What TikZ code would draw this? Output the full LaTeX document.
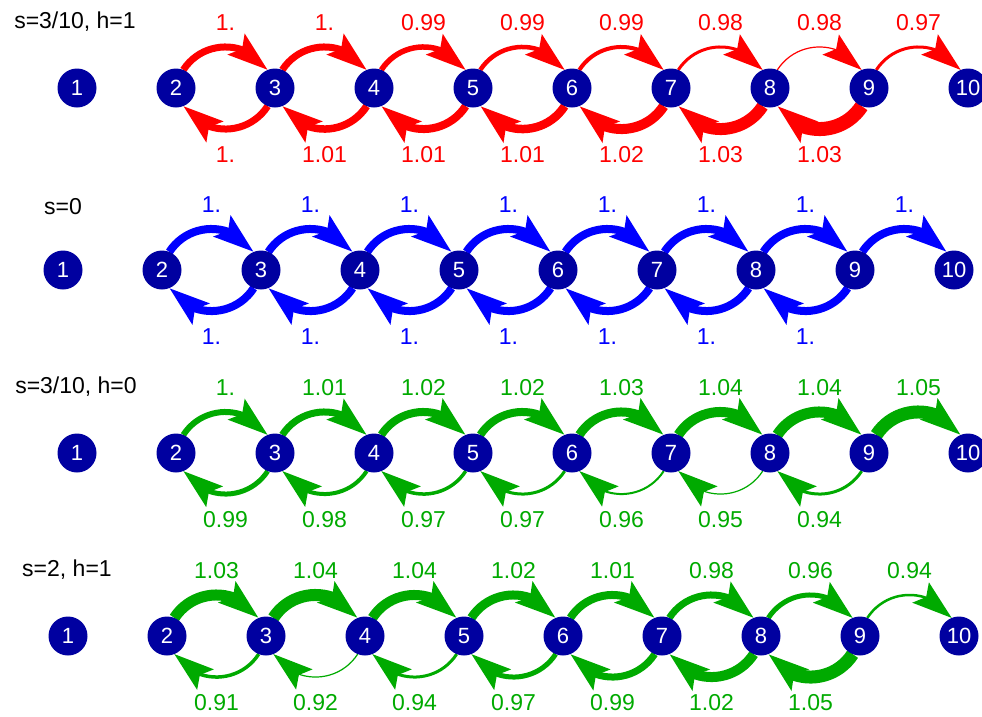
\documentclass[tikz,border=0pt]{standalone}
\usepackage{fontspec}
\setmainfont{Liberation Sans}
\usetikzlibrary{arrows.meta,bending,calc}
\pgfdeclarelayer{bg}
\pgfsetlayers{bg,main}
\definecolor{vblue}{RGB}{0,0,160}
\definecolor{dgreen}{RGB}{0,170,0}
\tikzset{
  vert/.style={circle,fill=vblue,text=white,minimum size=39pt,inner sep=0pt,outer sep=0pt,font=\fontsize{22}{22}\selectfont},
  wlab/.style={font=\fontsize{23}{23}\selectfont},
  fwd/.style={-{Stealth[length=40pt,width=26pt,inset=7pt,flex]}},
}
\newcommand\makerow[3]{% prefix, x1, y
  \foreach \k in {1,...,10}{
    \node[vert] (#1n\k) at ({#2+99*(\k-1)},{-#3}) {\k};
  }
}
\newcommand\toparcs[3]{% prefix, colour, list k/width/label
  \foreach \k/\w/\l in {#3}{
    \pgfmathtruncatemacro\n{\k+1}
    \begin{pgfonlayer}{bg}
      \draw[fwd,#2,line width=\w pt] (#1n\k.68) .. controls +(57:36.5) and +(123:36.5) .. (#1n\n.112);
    \end{pgfonlayer}
    \node[wlab,text=#2] (#1t\k) at ($(#1n\k)!0.5!(#1n\n)+(0,65)$) {\l};
  }
}
\newcommand\botarcs[3]{% prefix, colour, list k/width/label  (edge k+1 -> k)
  \foreach \k/\w/\l in {#3}{
    \pgfmathtruncatemacro\n{\k+1}
    \begin{pgfonlayer}{bg}
      \draw[fwd,#2,line width=\w pt] (#1n\n.248) .. controls +(-123:36.5) and +(-57:36.5) .. (#1n\k.292);
    \end{pgfonlayer}
    \node[wlab,text=#2] (#1b\k) at ($(#1n\k)!0.5!(#1n\n)+(0,-67)$) {\l};
  }
}
\begin{document}
\begin{tikzpicture}[x=1pt,y=1pt]
\useasboundingbox (0,0) rectangle (982,-716);
% row titles
\node[wlab] (title1) at (75,-22) {s=3/10, h=1};
\node[wlab] (title2) at (63,-207) {s=0};
\node[wlab] (title3) at (76,-387) {s=3/10, h=0};
\node[wlab] (title4) at (67,-570) {s=2, h=1};
% vertices
\makerow{a}{77}{88}
\makerow{b}{63}{270}
\makerow{c}{77}{453}
\makerow{d}{68}{636}
% row 1 (red)
\toparcs{a}{red}{2/7/1.,3/7/1.,4/5.5/0.99,5/4.5/0.99,6/4/0.99,7/3/0.98,8/1.2/0.98,9/3/0.97}
\botarcs{a}{red}{2/7/1.,3/7.5/1.01,4/8/1.01,5/8.5/1.01,6/10/1.02,7/12/1.03,8/14/1.03}
% row 2 (blue)
\toparcs{b}{blue}{2/8/1.,3/8/1.,4/8/1.,5/8/1.,6/8/1.,7/8/1.,8/8/1.,9/8/1.}
\botarcs{b}{blue}{2/8/1.,3/8/1.,4/8/1.,5/8/1.,6/8/1.,7/8/1.,8/8/1.}
% row 3 (green)
\toparcs{c}{dgreen}{2/6/1.,3/7/1.01,4/8/1.02,5/8/1.02,6/9/1.03,7/10/1.04,8/11/1.04,9/13/1.05}
\botarcs{c}{dgreen}{2/5/0.99,3/4/0.98,4/3.5/0.97,5/3/0.97,6/2/0.96,7/1.2/0.95,8/3/0.94}
% row 4 (green)
\toparcs{d}{dgreen}{2/11/1.03,3/12/1.04,4/10/1.04,5/9/1.02,6/8/1.01,7/7/0.98,8/5/0.96,9/2.5/0.94}
\botarcs{d}{dgreen}{2/3.5/0.91,3/1.2/0.92,4/3/0.94,5/5/0.97,6/7/0.99,7/10/1.02,8/13/1.05}
\end{tikzpicture}
\end{document}
